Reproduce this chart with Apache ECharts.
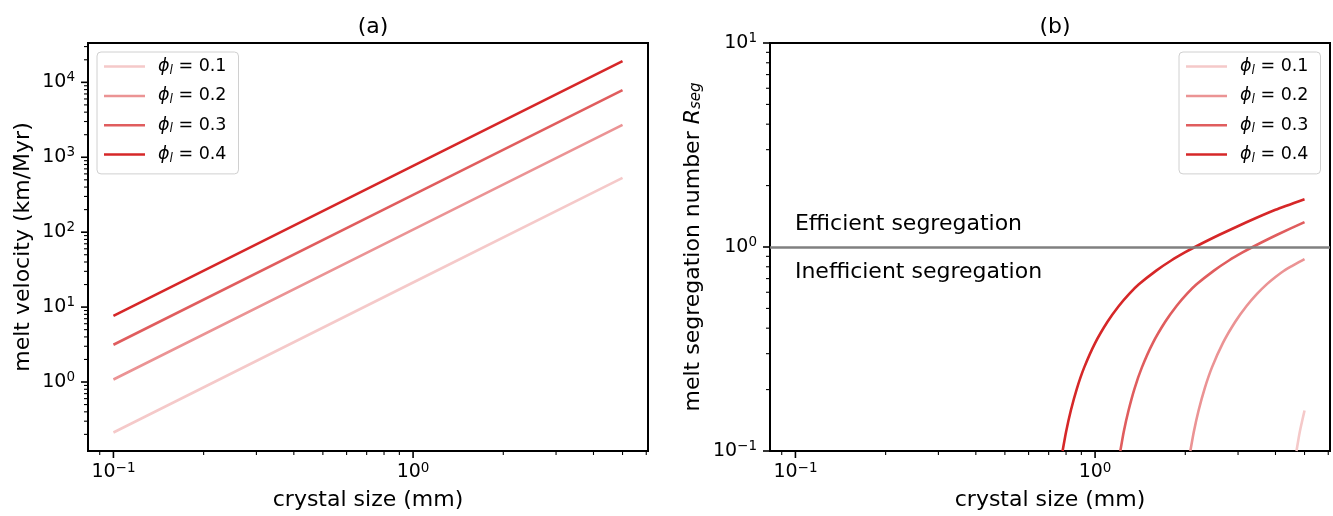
<!DOCTYPE html>
<html><head><meta charset="utf-8">
<script src="https://cdn.jsdelivr.net/npm/echarts@6/dist/echarts.min.js"></script>
<style>html,body{margin:0;padding:0;background:#fff}#c{width:1333px;height:516px}</style>
</head><body><div id="c"></div>
<script>
// ---------- data ----------
const phiLabels = ['0.1', '0.2', '0.3', '0.4'];
const colors = ['#f5c9c9', '#eb9394', '#e05d5e', '#d62728'];

// Panel (a): melt velocity (km/Myr) vs crystal size (mm)
const crystalSizeA = [0.1, 1, 5];
const velPhi01 = [0.212, 21.3, 532];
const velPhi02 = [1.08, 108, 2700];
const velPhi03 = [3.14, 314, 7870];
const velPhi04 = [7.65, 766, 19150];

// Panel (b): melt segregation number R_seg vs crystal size (mm)
const sizePhi01 = [4.70, 4.82, 5.0];
const rsegPhi01 = [0.100, 0.124, 0.158];
const sizePhi02 = [2.079, 2.135, 2.215, 2.322, 2.455, 2.669, 2.936, 3.203, 3.47, 3.737, 4.0, 4.27, 4.55, 4.804, 5.0];
const rsegPhi02 = [0.100, 0.124, 0.158, 0.203, 0.257, 0.338, 0.430, 0.514, 0.589, 0.656, 0.713, 0.765, 0.808, 0.845, 0.872];
const sizePhi03 = [1.214, 1.246, 1.293, 1.355, 1.433, 1.558, 1.714, 1.87, 2.025, 2.181, 2.493, 2.804, 3.116, 3.381, 4.051, 5.0];
const rsegPhi03 = [0.100, 0.124, 0.158, 0.203, 0.257, 0.338, 0.430, 0.514, 0.589, 0.656, 0.766, 0.861, 0.943, 1.006, 1.148, 1.325];
const sizePhi04 = [0.779, 0.80, 0.83, 0.87, 0.92, 1.0, 1.1, 1.2, 1.3, 1.4, 1.6, 1.8, 2.0, 2.17, 2.6, 3.2, 4.0, 5.0];
const rsegPhi04 = [0.100, 0.124, 0.158, 0.203, 0.257, 0.338, 0.430, 0.514, 0.589, 0.656, 0.766, 0.861, 0.943, 1.006, 1.148, 1.322, 1.522, 1.716];

const rsegThreshold = 1;
const annotationTexts = ['Efficient segregation', 'Inefficient segregation'];
const annotationX = [0.1, 0.1];
const annotationY = [1.2, 0.7];

const xRange = [0.08225, 6.081];
const yRangeA = [0.12, 33500];
const yRangeB = [0.1, 10];

// ---------- helpers ----------
const FONT = 'DejaVu Sans';
function powLabel(v) {
  const l = Math.log10(v), e = Math.round(l);
  if (Math.abs(l - e) > 1e-6) return '';
  return '{b|10}{sup|' + (e < 0 ? '\u2212' + (-e) : String(e)) + '}';
}
const labelRich = {
  b: { fontSize: 19, lineHeight: 23, fontFamily: FONT, color: '#000' },
  sup: { fontSize: 13.5, lineHeight: 12, verticalAlign: 'top', fontFamily: FONT, color: '#000' }
};
function decadeTicks(min, max) {
  const major = [], minor = [];
  for (let e = Math.floor(Math.log10(min)); e <= Math.ceil(Math.log10(max)); e++) {
    for (let k = 1; k < 10; k++) {
      const v = k * Math.pow(10, e);
      if (v < min * 0.9999 || v > max * 1.0001) continue;
      (k === 1 ? major : minor).push(v);
    }
  }
  return { major, minor };
}
function tickSeries(g, xr, yr) {
  const xt = decadeTicks(xr[0], xr[1]), yt = decadeTicks(yr[0], yr[1]);
  const data = [];
  xt.major.forEach(v => data.push([v, yr[0], 0, 1]));
  xt.minor.forEach(v => data.push([v, yr[0], 0, 0]));
  yt.major.forEach(v => data.push([xr[0], v, 1, 1]));
  yt.minor.forEach(v => data.push([xr[0], v, 1, 0]));
  return {
    type: 'custom', xAxisIndex: g, yAxisIndex: g, silent: true, clip: false, z: 6,
    data: data,
    renderItem: function (params, api) {
      const p = api.coord([api.value(0), api.value(1)]);
      const isY = api.value(2) === 1, major = api.value(3) === 1;
      const len = major ? 7 : 4;
      const shape = isY ? { x1: p[0], y1: p[1], x2: p[0] - len, y2: p[1] }
                        : { x1: p[0], y1: p[1], x2: p[0], y2: p[1] + len };
      return { type: 'line', shape: shape, style: { stroke: '#000', lineWidth: major ? 1.6 : 1.1 } };
    }
  };
}
function pairs(xs, ys) { return xs.map((x, i) => [x, ys[i]]); }

const LW = 2.6;
const seriesA = [velPhi01, velPhi02, velPhi03, velPhi04].map((vals, i) => ({
  name: phiLabels[i], type: 'line', xAxisIndex: 0, yAxisIndex: 0,
  symbol: 'none', showSymbol: false, z: 3,
  data: pairs(crystalSizeA, vals),
  lineStyle: { width: LW, color: colors[i] }, itemStyle: { color: colors[i] }
}));
const bX = [sizePhi01, sizePhi02, sizePhi03, sizePhi04];
const bY = [rsegPhi01, rsegPhi02, rsegPhi03, rsegPhi04];
const seriesB = bX.map((xs, i) => ({
  name: phiLabels[i], type: 'line', xAxisIndex: 1, yAxisIndex: 1,
  symbol: 'none', showSymbol: false, smooth: 0.2, z: 3,
  data: pairs(xs, bY[i]),
  lineStyle: { width: LW, color: colors[i], join: 'round' }, itemStyle: { color: colors[i] }
}));
seriesB[0].markLine = {
  silent: true, symbol: ['none', 'none'], label: { show: false },
  lineStyle: { color: '#808080', width: 2.7, type: 'solid' },
  data: [{ yAxis: rsegThreshold }]
};
seriesB[0].markPoint = {
  silent: true, symbol: 'rect', symbolSize: 1, itemStyle: { color: 'rgba(0,0,0,0)' },
  data: annotationTexts.map((t, i) => ({ name: t, coord: [annotationX[i], annotationY[i]] })),
  label: {
    show: true, formatter: '{b}', position: [0, 0], align: 'left', verticalAlign: 'bottom',
    offset: [0, 5], fontFamily: FONT, fontSize: 22, color: '#000'
  }
};

function xAxisCfg(g) {
  return {
    type: 'log', logBase: 10, gridIndex: g, min: xRange[0], max: xRange[1],
    name: 'crystal size (mm)', nameLocation: 'middle', nameGap: 38,
    nameTextStyle: { fontSize: 22, color: '#000', fontFamily: FONT },
    axisLine: { show: false }, axisTick: { show: false }, splitLine: { show: false },
    minorTick: { show: false }, minorSplitLine: { show: false },
    axisLabel: { formatter: powLabel, margin: 10, rich: labelRich, color: '#000', fontFamily: FONT }
  };
}
function yAxisCfg(g, range, name, gap, rich) {
  return {
    type: 'log', logBase: 10, gridIndex: g, min: range[0], max: range[1],
    name: name, nameLocation: 'middle', nameGap: gap,
    nameTextStyle: { fontSize: 22, color: '#000', fontFamily: FONT, rich: rich },
    axisLine: { show: false }, axisTick: { show: false }, splitLine: { show: false },
    minorTick: { show: false }, minorSplitLine: { show: false },
    axisLabel: { formatter: powLabel, margin: 13, rich: labelRich, color: '#000', fontFamily: FONT }
  };
}
const legendRich = {
  it: { fontStyle: 'italic', fontSize: 17.5, lineHeight: 20, fontFamily: FONT, color: '#000' },
  sub: { fontStyle: 'italic', fontSize: 12, lineHeight: 12, verticalAlign: 'bottom', fontFamily: FONT, color: '#000' },
  n: { fontSize: 17.5, lineHeight: 20, fontFamily: FONT, color: '#000' }
};
function legendCfg(left) {
  return {
    orient: 'vertical', left: left, top: 52, data: phiLabels, icon: 'rect',
    itemWidth: 41, itemHeight: 2.5, itemGap: 10.3, padding: [5.6, 12, 9.4, 7],
    backgroundColor: '#fff', borderColor: '#d0d0d0', borderWidth: 1, borderRadius: 4,
    selectedMode: false,
    formatter: n => '{it|\u03d5}{sub|l}{n| = ' + n + '}',
    textStyle: { fontFamily: FONT, fontSize: 17.5, color: '#000', padding: [0, 0, 0, 8], rich: legendRich }
  };
}

const option = {
  backgroundColor: '#fff',
  animation: false,
  textStyle: { fontFamily: FONT },
  title: [
    { text: '(a)', left: 368, top: 11, textAlign: 'center', textStyle: { fontSize: 22, fontWeight: 'normal', color: '#000', fontFamily: FONT } },
    { text: '(b)', left: 1050, top: 11, textAlign: 'center', textStyle: { fontSize: 22, fontWeight: 'normal', color: '#000', fontFamily: FONT } }
  ],
  grid: [
    { left: 88, top: 43, width: 560, height: 409, show: true, borderColor: '#000', borderWidth: 2, containLabel: false },
    { left: 770, top: 43, width: 560, height: 409, show: true, borderColor: '#000', borderWidth: 2, containLabel: false }
  ],
  xAxis: [xAxisCfg(0), xAxisCfg(1)],
  yAxis: [
    yAxisCfg(0, yRangeA, 'melt velocity (km/Myr)', 54),
    yAxisCfg(1, yRangeB, 'melt segregation number {it|R}{sub|seg}', 66, {
      it: { fontStyle: 'italic', fontSize: 22, fontFamily: FONT, color: '#000' },
      sub: { fontStyle: 'italic', fontSize: 15, lineHeight: 14, verticalAlign: 'bottom', fontFamily: FONT, color: '#000' }
    })
  ],
  legend: [legendCfg(97), legendCfg(1179)],
  series: [].concat(seriesA, seriesB, [tickSeries(0, xRange, yRangeA), tickSeries(1, xRange, yRangeB)])
};
const chart = echarts.init(document.getElementById('c'), null, { renderer: 'canvas' });
chart.setOption(option);
</script>
</body></html>
